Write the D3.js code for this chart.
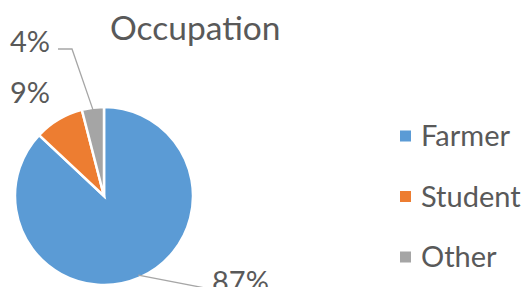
<!DOCTYPE html>
<meta charset="utf-8">
<style>
  body { margin: 0; background: #fff; }
  text { font-family: Lato, "Open Sans", sans-serif; fill: #595959; }
</style>
<script src="https://d3js.org/d3.v7.min.js"></script>
<div id="chart"></div>
<script>

// data
var categories = ["Farmer", "Student", "Other"];
var shares = [87, 9, 4];
var colors = ["#5B9BD5", "#ED7D31", "#A5A5A5"];

var width = 527, height = 287;
var cx = 104, cy = 196, r = 89;

var svg = d3.select("#chart")
  .append("svg")
    .attr("width", width)
    .attr("height", height);

// title
svg.append("text")
  .attr("x", 110)
  .attr("y", 40)
  .style("font-size", "33.5px")
  .text("Occupation");

var data = categories.map(function(c, i) { return {name: c, value: shares[i]}; });

var color = d3.scaleOrdinal()
  .domain(categories)
  .range(colors);

var pie = d3.pie()
  .sort(null)
  .value(function(d) { return d.value; });

var arc = d3.arc().innerRadius(0).outerRadius(r);
var edge = d3.arc().innerRadius(r * 0.97).outerRadius(r * 0.97);

var g = svg.append("g")
  .attr("transform", "translate(" + cx + "," + cy + ")");

var arcs = pie(data);

g.selectAll("path.slice")
  .data(arcs)
  .enter()
  .append("path")
    .attr("class", "slice")
    .attr("d", arc)
    .attr("fill", function(d) { return color(d.data.name); })
    .attr("stroke", "#fff")
    .attr("stroke-width", 2.5);

// label placement (Excel best fit, roughly), relative to pie centre
var labelLayout = {
  Farmer:  {x: 108, y: 96,  anchor: "start", line: [[101, 92]]},
  Student: {x: -54, y: -93, anchor: "end",   line: null},
  Other:   {x: -54, y: -144, anchor: "end",  line: [[-46, -147], [-32, -147]]}
};

arcs.forEach(function(d) {
  var L = labelLayout[d.data.name];
  if (L.line) {
    var p = edge.centroid(d);
    var pts = L.line.concat([p]);
    g.append("path")
      .attr("d", d3.line()(pts))
      .attr("fill", "none")
      .attr("stroke", "#A6A6A6")
      .attr("stroke-width", 1.3);
  }
  g.append("text")
    .attr("x", L.x)
    .attr("y", L.y)
    .attr("text-anchor", L.anchor)
    .style("font-size", "29px")
    .text(Math.round(d.value) + "%");
});

// legend
var ly = d3.scalePoint()
  .domain(categories)
  .range([136, 257]);

var legend = svg.selectAll("g.legend")
  .data(categories)
  .enter()
  .append("g")
    .attr("class", "legend")
    .attr("transform", function(d) { return "translate(400," + ly(d) + ")"; });

legend.append("rect")
  .attr("x", 0)
  .attr("y", -5.5)
  .attr("width", 11)
  .attr("height", 11)
  .attr("fill", function(d) { return color(d); });

legend.append("text")
  .attr("x", 21)
  .attr("y", 0)
  .attr("dy", "0.35em")
  .style("font-size", "29px")
  .text(function(d) { return d; });

</script>
